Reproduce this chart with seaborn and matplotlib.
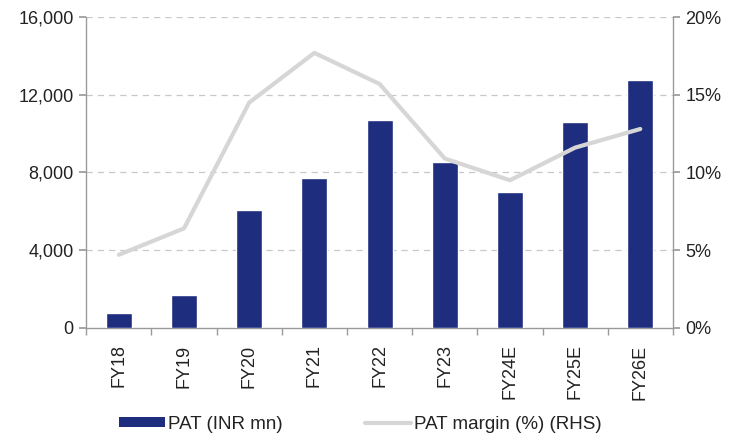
import numpy as np
import pandas as pd
import matplotlib
matplotlib.use("Agg")
import matplotlib.pyplot as plt
import seaborn as sns
from matplotlib.patches import Patch
from matplotlib.lines import Line2D
from matplotlib.ticker import FuncFormatter, FixedLocator

categories = ["FY18", "FY19", "FY20", "FY21", "FY22", "FY23", "FY24E", "FY25E", "FY26E"]
pat = [740, 1700, 6060, 7720, 10680, 8530, 7000, 10600, 12750]
margin = [4.7, 6.4, 14.5, 17.7, 15.7, 10.9, 9.5, 11.6, 12.8]
left_ticks = [0, 4000, 8000, 12000, 16000]
right_ticks = [0, 5, 10, 15, 20]

sns.set_theme(style="white")
plt.rcParams["font.family"] = ["Liberation Sans", "DejaVu Sans"]

bar_color = "#1f2d7e"
line_color = "#d6d6d6"
spine_color = "#9a9a9a"
text_color = "#222222"
fs = 13

fig = plt.figure(figsize=(7.37, 4.40), dpi=100)
ax = fig.add_axes([0.117, 0.255, 0.796, 0.706])

df = pd.DataFrame({"cat": categories, "pat": pat})
sns.barplot(data=df, x="cat", y="pat", color=bar_color, width=0.4, ax=ax,
            saturation=1, zorder=3)
ax.set_ylim(0, 16000)
ax.set_xlim(-0.5, len(categories) - 0.5)
ax.set_yticks(left_ticks)
ax.yaxis.set_major_formatter(FuncFormatter(lambda v, p: f"{int(v):,}"))
for t in left_ticks[1:]:
    ax.axhline(t, color="#c8c8c8", lw=0.9, ls=(0, (5, 4)), zorder=1)
ax.set_xlabel("")
ax.set_ylabel("")

ax2 = ax.twinx()
sns.lineplot(x=np.arange(len(categories)), y=margin, ax=ax2, color=line_color,
             lw=3.0, sort=False, zorder=4)
ax2.set_ylim(0, 20)
ax2.set_yticks(right_ticks)
ax2.yaxis.set_major_formatter(FuncFormatter(lambda v, p: f"{int(v)}%"))
ax2.set_xlim(-0.5, len(categories) - 0.5)

for a in (ax, ax2):
    a.spines["top"].set_visible(False)
    for s in ["left", "right", "bottom"]:
        a.spines[s].set_color(spine_color)
        a.spines[s].set_linewidth(1.0)

ax.spines["right"].set_visible(False)
ax2.spines["left"].set_visible(False)
ax2.spines["bottom"].set_visible(False)

ax.tick_params(axis="y", which="major", left=True, length=5, color=spine_color,
               labelsize=fs, labelcolor=text_color, pad=4)
ax2.tick_params(axis="y", which="major", right=True, length=5, color=spine_color,
                labelsize=fs, labelcolor=text_color, pad=4)

ax.set_xticks(np.arange(len(categories)))
ax.set_xticklabels(categories, rotation=90, fontsize=fs, color=text_color)
ax.tick_params(axis="x", which="major", length=0, pad=12)
ax.xaxis.set_minor_locator(FixedLocator(np.arange(-0.5, len(categories), 1.0)))
ax.tick_params(axis="x", which="minor", bottom=True, length=5, color=spine_color)

handles = [Patch(facecolor=bar_color, edgecolor="none", label="PAT (INR mn)"),
           Line2D([0], [0], color=line_color, lw=3, label="PAT margin (%) (RHS)")]
fig.legend(handles=handles, loc="center", bbox_to_anchor=(0.489, 0.036), ncol=2,
           frameon=False, fontsize=13.5, handlelength=2.45, handleheight=0.45,
           columnspacing=4.4, handletextpad=0.15, labelcolor=text_color)

fig.savefig("out.png", dpi=100, facecolor="white")
